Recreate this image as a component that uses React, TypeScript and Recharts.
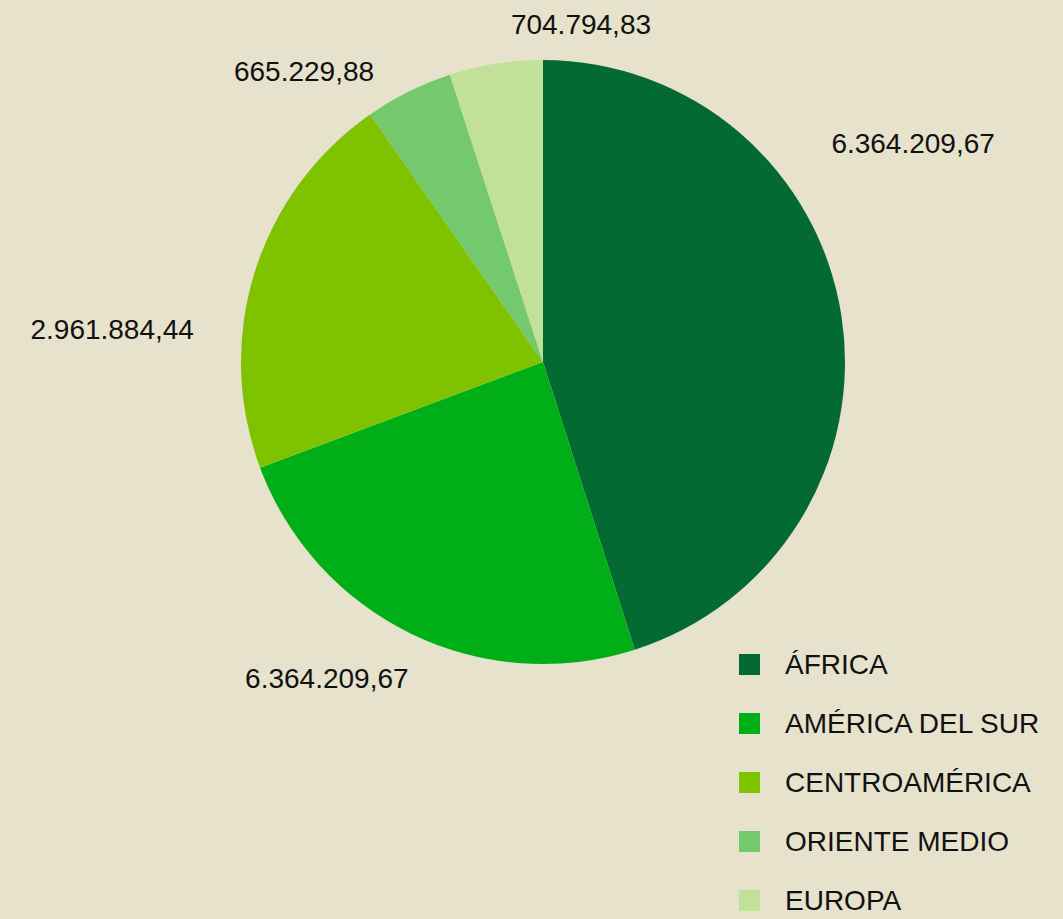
import { PieChart, Pie, Cell, Legend } from 'recharts'

// regions, clockwise from 12 o'clock
const REGIONS = ['ÁFRICA', 'AMÉRICA DEL SUR', 'CENTROAMÉRICA', 'ORIENTE MEDIO', 'EUROPA']
// slice sizes (América del Sur; its printed label repeats África's)
const AMOUNTS = [6364209.67, 3420000, 2961884.44, 665229.88, 704794.83]
const VALUE_LABELS = ['6.364.209,67', '6.364.209,67', '2.961.884,44', '665.229,88', '704.794,83']
const COLORS = ['#036a32', '#00ae18', '#7fc200', '#73c96b', '#c2e198']

const BG = '#e6e2cb'
const FONT = '"Liberation Sans", Arial, Helvetica, sans-serif'
const RADIAN = Math.PI / 180

// label placement: angle shift from slice mid-angle (deg), and gap outside the rim (px)
const LABEL_SHIFT = [21.75, -8.45, 13, 13, -15.4]
const LABEL_GAP = [128, 81, 130, 74, 38]

const data = REGIONS.map((name, i) => ({ name, value: AMOUNTS[i], text: VALUE_LABELS[i] }))

const renderLabel = (props: any) => {
  const { cx, cy, midAngle, outerRadius, index } = props
  const angle = midAngle + LABEL_SHIFT[index]
  const r = outerRadius + LABEL_GAP[index]
  const x = cx + r * Math.cos(-angle * RADIAN)
  const y = cy + r * Math.sin(-angle * RADIAN)
  return (
    <text
      x={x}
      y={y}
      fill="#111"
      fontSize={28}
      fontFamily={FONT}
      textAnchor="middle"
      dominantBaseline="central"
    >
      {VALUE_LABELS[index]}
    </text>
  )
}

const renderLegend = () => (
  <div style={{ fontFamily: FONT }}>
    {REGIONS.map((name, i) => (
      <div key={name} style={{ display: 'flex', alignItems: 'center', height: 59 }}>
        <span style={{ width: 21, height: 21, background: COLORS[i], display: 'inline-block' }} />
        <span style={{ marginLeft: 25, fontSize: 28, color: '#111', lineHeight: '28px' }}>{name}</span>
      </div>
    ))}
  </div>
)

export default function App() {
  return (
    <div style={{ position: 'absolute', left: 0, top: 0, width: 1063, height: 919, background: BG }}>
      <PieChart width={1063} height={919} margin={{ top: 0, right: 0, bottom: 0, left: 0 }}>
        <Pie
          data={data}
          dataKey="value"
          nameKey="name"
          cx={543}
          cy={362}
          outerRadius={302}
          startAngle={90}
          endAngle={-270}
          stroke="none"
          label={renderLabel}
          labelLine={false}
          isAnimationActive={false}
        >
          {data.map((d, i) => (
            <Cell key={d.name} fill={COLORS[i]} />
          ))}
        </Pie>
        <Legend
          content={renderLegend}
          wrapperStyle={{ position: 'absolute', left: 739, top: 635, width: 320 }}
        />
      </PieChart>
    </div>
  )
}
